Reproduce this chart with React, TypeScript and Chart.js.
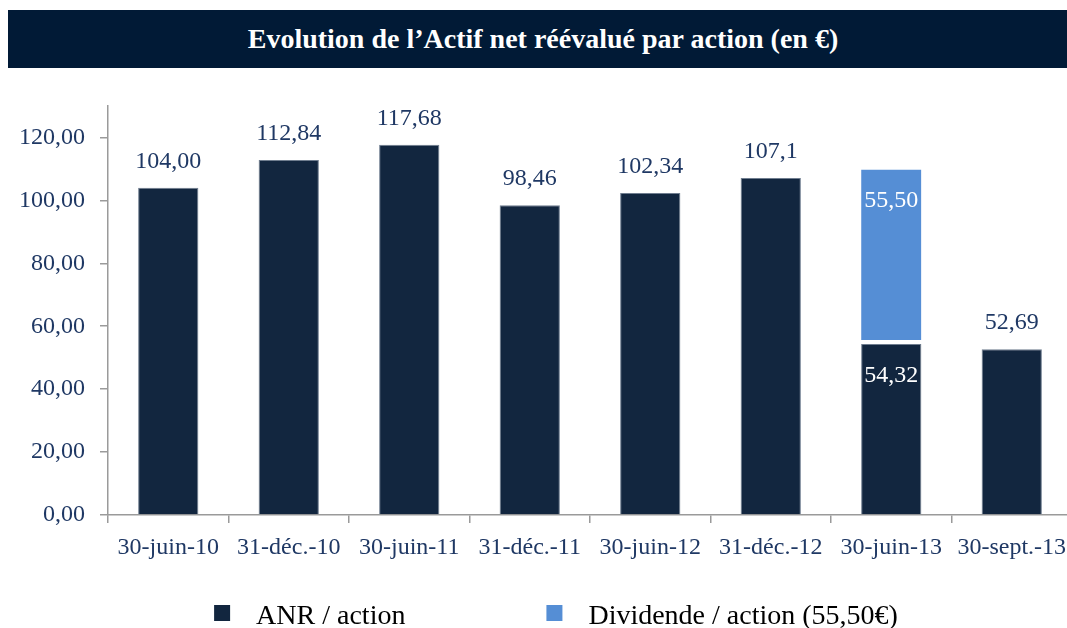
import React, { useEffect, useRef } from "react";
import { Chart, registerables } from "chart.js";

Chart.register(...registerables);

const categories = [
  "30-juin-10",
  "31-déc.-10",
  "30-juin-11",
  "31-déc.-11",
  "30-juin-12",
  "31-déc.-12",
  "30-juin-13",
  "30-sept.-13",
];
const anrValues = [104.0, 112.84, 117.68, 98.46, 102.34, 107.1, 54.32, 52.69];
const anrLabels = ["104,00", "112,84", "117,68", "98,46", "102,34", "107,1", "54,32", "52,69"];
const dividendValues = [null, null, null, null, null, null, 55.5, null];
const dividendLabels = ["", "", "", "", "", "", "55,50", ""];
const yTicks = [0, 20, 40, 60, 80, 100, 120];
const seriesNames = ["ANR / action", "Dividende / action (55,50€)"];
const titleText = "Evolution de l’Actif net réévalué par action (en €)";

const DARK = "#12263F";
const BLUE = "#558ED5";
const TEXT_BLUE = "#1F3864";
const AXIS = "#9a9a9a";
const FONT = "'Liberation Serif', 'DejaVu Serif', serif";

const valueLabelPlugin = {
  id: "valueLabels",
  afterDatasetsDraw(chart: any) {
    const ctx = chart.ctx;
    ctx.save();
    ctx.font = `24px ${FONT}`;
    ctx.textAlign = "center";
    ctx.textBaseline = "alphabetic";
    chart.data.datasets.forEach((ds: any, di: number) => {
      const meta = chart.getDatasetMeta(di);
      meta.data.forEach((bar: any, i: number) => {
        const v = ds.data[i];
        if (v === null || v === undefined) return;
        const labels = di === 0 ? anrLabels : dividendLabels;
        const text = labels[i];
        const stacked = dividendValues[i] !== null;
        if (stacked) {
          ctx.fillStyle = "#ffffff";
          ctx.fillText(text, bar.x, bar.y + 38);
        } else {
          ctx.fillStyle = TEXT_BLUE;
          ctx.fillText(text, bar.x, bar.y - 20);
        }
      });
    });
    ctx.restore();
  },
};

const legendPlugin = {
  id: "customLegend",
  afterDraw(chart: any) {
    const ctx = chart.ctx;
    ctx.save();
    ctx.font = `28px ${FONT}`;
    ctx.textBaseline = "alphabetic";
    const box = 16;
    const gapText = 26;
    const gapItems = 141;
    const colors = [DARK, BLUE];
    const widths = seriesNames.map((n) => box + gapText + ctx.measureText(n).width);
    const total = widths[0] + gapItems + widths[1];
    const center = 548;
    let x = center - total / 2;
    const baseline = 556;
    seriesNames.forEach((name, i) => {
      ctx.fillStyle = colors[i];
      ctx.fillRect(x, baseline - 19, box, box);
      ctx.fillStyle = "#000000";
      ctx.fillText(name, x + box + gapText, baseline);
      x += widths[i] + gapItems;
    });
    ctx.restore();
  },
};

export default function App() {
  const canvasRef = useRef<HTMLCanvasElement | null>(null);

  useEffect(() => {
    document.documentElement.style.overflow = "hidden";
    if (!canvasRef.current) return;
    const chart = new Chart(canvasRef.current, {
      type: "bar",
      data: {
        labels: categories,
        datasets: [
          {
            label: seriesNames[0],
            data: anrValues,
            backgroundColor: DARK,
            borderColor: "#6f7d8f",
            borderWidth: 1,
            borderSkipped: "start",
            barPercentage: 0.5,
            categoryPercentage: 1,
            stack: "s",
          },
          {
            label: seriesNames[1],
            data: dividendValues as any,
            backgroundColor: BLUE,
            borderColor: "#ffffff",
            borderWidth: { top: 0, left: 0, right: 0, bottom: 4 },
            borderSkipped: false,
            barPercentage: 0.5,
            categoryPercentage: 1,
            stack: "s",
          },
        ],
      },
      options: {
        responsive: false,
        animation: false,
        devicePixelRatio: 1,
        layout: { padding: { top: 38, left: 0, right: 6, bottom: 53 } },
        plugins: {
          legend: { display: false },
          tooltip: { enabled: false },
          title: { display: false },
        },
        scales: {
          x: {
            stacked: true,
            afterFit(scale: any) {
              scale.height = 60;
            },
            grid: {
              display: true,
              drawOnChartArea: false,
              drawTicks: true,
              tickLength: 8,
              offset: true,
              color: AXIS,
              lineWidth: 1.5,
            },
            border: { display: true, color: AXIS, width: 1.5 },
            ticks: {
              color: TEXT_BLUE,
              font: { family: FONT, size: 24 },
              padding: 10,
              maxRotation: 0,
              autoSkip: false,
            },
          },
          y: {
            stacked: true,
            min: 0,
            max: 130,
            afterFit(scale: any) {
              scale.width = 100;
            },
            afterBuildTicks(scale: any) {
              scale.ticks = yTicks.map((v) => ({ value: v }));
            },
            grid: {
              display: true,
              drawOnChartArea: false,
              drawTicks: true,
              tickLength: 8,
              color: AXIS,
              lineWidth: 1.5,
            },
            border: { display: true, color: AXIS, width: 1.5 },
            ticks: {
              color: TEXT_BLUE,
              font: { family: FONT, size: 24 },
              padding: 15,
              callback: (v: any) => Number(v).toFixed(2).replace(".", ","),
            },
          },
        },
      },
      plugins: [valueLabelPlugin, legendPlugin],
    });
    return () => chart.destroy();
  }, []);

  return (
    <div
      style={{
        position: "fixed",
        left: 8,
        top: 8,
        width: 1100,
        height: 620,
        overflow: "hidden",
        background: "#ffffff",
      }}
    >
      <div
        style={{
          marginTop: 2,
          height: 58,
          width: 1090,
          lineHeight: "58px",
          background: "#011A36",
          color: "#ffffff",
          fontFamily: FONT,
          fontWeight: "bold",
          fontSize: 28,
          textAlign: "center",
          paddingLeft: 0,
          paddingRight: 20,
          boxSizing: "border-box",
          whiteSpace: "nowrap",
        }}
      >
        {titleText}
      </div>
      <canvas ref={canvasRef} width={1070} height={560} style={{ display: "block" }} />
    </div>
  );
}
